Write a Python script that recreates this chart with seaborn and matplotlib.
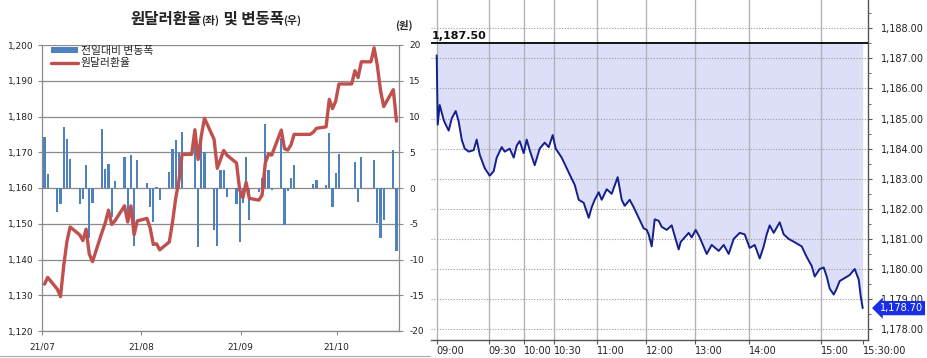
import numpy as np
import pandas as pd
import matplotlib
matplotlib.use("Agg")
import matplotlib.pyplot as plt
import matplotlib.transforms as mtransforms
from matplotlib import font_manager as fm
from matplotlib.offsetbox import TextArea, HPacker, AnchoredOffsetbox
from matplotlib.patches import Patch
from matplotlib.lines import Line2D
from matplotlib.ticker import MultipleLocator
import seaborn as sns

# ---------------- data: left panel (daily) ----------------
dates = [
    "2021-07-01", "2021-07-02", "2021-07-05", "2021-07-06", "2021-07-07", "2021-07-08", "2021-07-09",
    "2021-07-12", "2021-07-13", "2021-07-14", "2021-07-15", "2021-07-16",
    "2021-07-19", "2021-07-20", "2021-07-21", "2021-07-22", "2021-07-23",
    "2021-07-26", "2021-07-27", "2021-07-28", "2021-07-29", "2021-07-30",
    "2021-08-02", "2021-08-03", "2021-08-04", "2021-08-05", "2021-08-06",
    "2021-08-09", "2021-08-10", "2021-08-11", "2021-08-12", "2021-08-13",
    "2021-08-16", "2021-08-17", "2021-08-18", "2021-08-19", "2021-08-20",
    "2021-08-23", "2021-08-24", "2021-08-25", "2021-08-26", "2021-08-27",
    "2021-08-30", "2021-08-31", "2021-09-01", "2021-09-02", "2021-09-03",
    "2021-09-06", "2021-09-07", "2021-09-08", "2021-09-09", "2021-09-10",
    "2021-09-13", "2021-09-14", "2021-09-15", "2021-09-16", "2021-09-17",
    "2021-09-20", "2021-09-21", "2021-09-22", "2021-09-23", "2021-09-24",
    "2021-09-27", "2021-09-28", "2021-09-29", "2021-09-30", "2021-10-01",
    "2021-10-04", "2021-10-05", "2021-10-06", "2021-10-07", "2021-10-08",
    "2021-10-11", "2021-10-12", "2021-10-13", "2021-10-14", "2021-10-15",
    "2021-10-18", "2021-10-19",
]
usdkrw = [
    1133.1, 1135.0, 1131.7, 1129.6, 1138.2, 1145.0, 1149.1,
    1146.9, 1145.3, 1148.5, 1141.5, 1139.4,
    1147.7, 1150.3, 1153.8, 1149.8, 1150.8,
    1155.0, 1150.5, 1155.0, 1146.9, 1150.8,
    1151.5, 1148.9, 1144.2, 1144.4, 1142.7,
    1144.9, 1150.4, 1157.1, 1162.0, 1169.4,
    1169.4, 1176.3, 1168.0, 1174.6, 1179.5,
    1173.6, 1165.5, 1168.0, 1170.5, 1169.2,
    1167.0, 1159.4, 1157.3, 1161.6, 1157.1,
    1156.6, 1158.0, 1167.0, 1169.5, 1169.2,
    1176.2, 1171.0, 1170.6, 1172.0, 1175.0,
    1175.0, 1175.0, 1175.0, 1175.6, 1176.7,
    1177.1, 1184.8, 1182.2, 1184.3, 1189.1,
    1189.1, 1189.1, 1192.8, 1190.9, 1195.3,
    1195.3, 1199.2, 1194.3, 1187.3, 1182.8,
    1187.5, 1178.7,
]
daily_change = [
    7.2, 2.0, -3.3, -2.2, 8.6, 6.9, 4.1,
    -2.2, -1.6, 3.2, -7.0, -2.1,
    8.3, 2.6, 3.4, -4.0, 1.0,
    4.3, -4.5, 4.6, -8.1, 3.9,
    0.7, -2.6, -4.7, 0.2, -1.7,
    2.2, 5.5, 6.7, 4.9, 7.8,
    0.0, 7.0, -8.2, 6.5, 5.0,
    -5.9, -8.1, 2.5, 2.5, -1.3,
    -2.2, -7.6, -2.1, 4.3, -4.5,
    -0.5, 1.4, 9.0, 2.5, -0.3,
    7.0, -5.2, -0.4, 1.4, 3.2,
    0.0, 0.0, 0.0, 0.6, 1.1,
    0.4, 7.7, -2.6, 2.1, 4.8,
    0.0, 0.0, 3.7, -1.9, 4.4,
    0.0, 3.9, -4.9, -7.0, -4.5,
    5.3, -8.8,
]
month_ticks = ["2021-07-01", "2021-08-01", "2021-09-01", "2021-10-01"]
month_labels = ["21/07", "21/08", "21/09", "21/10"]

# ---------------- data: right panel (intraday) ----------------
intraday_pos = [
    0, 1, 3, 7, 9, 12, 15, 19, 22, 25, 28, 32, 37, 40, 43, 48, 53, 57, 60, 65,
    68, 73, 77, 80, 83, 87, 90, 93, 98, 103, 108, 112, 116, 119, 125, 130, 135, 138,
    142, 147, 152, 155, 158, 162, 165, 170, 175, 181, 185, 188, 193, 197, 202, 207,
    210, 212, 215, 218, 222, 225, 230, 235, 238, 242, 244, 252, 255, 259, 263, 270,
    275, 282, 287, 292, 297, 303, 308, 313, 318, 323, 327, 330, 333, 337, 343, 347,
    352, 360, 365, 370, 375, 378, 383, 387, 390, 393, 397, 400, 403, 408, 413, 418,
    422, 424, 426,
]
intraday_rate = [
    1187.1, 1184.8, 1185.45, 1184.95, 1184.8, 1184.6, 1185.0, 1185.25, 1184.9, 1184.3,
    1184.0, 1183.9, 1183.95, 1184.3, 1183.8, 1183.35, 1183.1, 1183.25, 1183.7, 1184.05,
    1183.9, 1184.0, 1183.7, 1184.1, 1184.25, 1183.85, 1184.3, 1183.95, 1183.45, 1184.0,
    1184.2, 1184.05, 1184.45, 1184.0, 1183.7, 1183.35, 1183.0, 1182.8,
    1182.3, 1182.2, 1181.7, 1182.05, 1182.3, 1182.55, 1182.3, 1182.65, 1182.5, 1183.05,
    1182.3, 1182.1, 1182.3, 1182.05, 1181.7, 1181.35,
    1181.3, 1181.15, 1180.75, 1181.65, 1181.6, 1181.4, 1181.3, 1181.45, 1181.1, 1180.65,
    1180.9, 1181.2, 1181.05, 1181.3, 1181.05, 1180.5,
    1180.8, 1180.6, 1180.8, 1180.5, 1181.0, 1181.2, 1181.15, 1180.7, 1180.8, 1180.35,
    1180.75, 1181.15, 1181.45, 1181.2, 1181.55, 1181.15,
    1181.0, 1180.85, 1180.75, 1180.4, 1180.1, 1179.75, 1180.0, 1180.05, 1179.75, 1179.35,
    1179.15, 1179.35, 1179.6, 1179.7, 1179.8, 1180.0,
    1179.65, 1179.1, 1178.7,
]
prev_close = 1187.5
last_price = 1178.7
time_tick_pos = [0, 52, 87, 117, 160, 209, 258, 312, 384, 426]
time_labels = ["09:00", "09:30", "10:00", "10:30", "11:00", "12:00", "13:00", "14:00", "15:00", "15:30:00"]

# ---------------- style / fonts ----------------
sns.set_style("white")
names = {f.name for f in fm.fontManager.ttflist}
NARROW = "Liberation Sans Narrow" if "Liberation Sans Narrow" in names else "DejaVu Sans"
NSZ = 9.0 if NARROW != "DejaVu Sans" else 7.0
KR = "Noto Sans CJK KR"
plt.rcParams["font.family"] = [NARROW, KR, "DejaVu Sans"]
plt.rcParams["axes.unicode_minus"] = False

W, H = 928, 358
fig = plt.figure(figsize=(W / 100, H / 100), dpi=100)
fig.patch.set_facecolor("white")


def rect(l, t, r, b):
    return [l / W, 1 - b / H, (r - l) / W, (b - t) / H]


GRAY = "#8a8a8a"
BLUE = "#4F81BD"
RED = "#C0504D"

# ---------------- left panel ----------------
d0 = pd.Timestamp("2021-07-01")
day = (pd.to_datetime(dates) - d0).days.to_numpy().astype(float)
mt = (pd.to_datetime(month_ticks) - d0).days.to_numpy().astype(float) - 0.7

axb = fig.add_axes(rect(42, 45, 399, 331))
axl = axb.twinx()

sns.barplot(x=day, y=daily_change, native_scale=True, width=0.7, color=BLUE,
            saturation=1, errorbar=None, ax=axb, zorder=2, linewidth=0, edgecolor="none")
sns.lineplot(x=day, y=usdkrw, ax=axl, color=RED, linewidth=2.4, zorder=3)

axb.yaxis.tick_right()
axl.yaxis.tick_left()
axb.set_ylim(-20, 20)
axb.set_yticks(range(-20, 21, 5))
axb.set_yticklabels([str(v) for v in range(-20, 21, 5)])
axl.set_ylim(1120, 1200)
axl.set_yticks(range(1120, 1201, 10))
axl.set_yticklabels([f"{v:,}" for v in range(1120, 1201, 10)])
axb.set_xlim(-0.78, 110.78)
axb.set_xticks(mt)
axb.set_xticklabels(month_labels)
for a in (axb, axl):
    a.set_xlabel("")
    a.set_ylabel("")
axb.grid(axis="y", color=GRAY, linewidth=0.9)
axb.grid(axis="x", visible=False)
axb.set_axisbelow(True)
for s in ["left", "bottom", "right"]:
    axb.spines[s].set_visible(True)
    axb.spines[s].set_color(GRAY)
    axb.spines[s].set_linewidth(0.9)
axb.spines["top"].set_visible(False)
for s in axl.spines.values():
    s.set_visible(False)
axb.tick_params(axis="y", which="major", right=True, left=False, length=3, width=0.8,
                color=GRAY, pad=4.5, labelsize=NSZ - 0.5, labelcolor="#222222")
axb.tick_params(axis="x", bottom=True, length=3, width=0.8, color=GRAY, pad=5,
                labelsize=NSZ - 0.5, labelcolor="#222222")
axl.tick_params(axis="y", left=True, right=False, length=3, width=0.8, color=GRAY,
                pad=3, labelsize=NSZ - 0.5, labelcolor="#222222")

handles = [Patch(facecolor=BLUE, edgecolor="none"), Line2D([], [], color=RED, linewidth=2.4)]
leg = axl.legend(handles, ["전일대비 변동폭", "원달러환율"], loc="upper left",
                 bbox_to_anchor=(0.012, 1.012), frameon=False, prop={"family": KR, "size": 7.8},
                 handlelength=2.5, handleheight=0.55, handletextpad=0.3, labelspacing=0.2,
                 borderaxespad=0, borderpad=0.4)

title = HPacker(children=[
    TextArea("원달러환율", textprops=dict(fontsize=11.2, fontweight="bold", family=KR, color="#222222")),
    TextArea("(좌)", textprops=dict(fontsize=7.8, fontweight="bold", family=KR, color="#222222")),
    TextArea(" 및 변동폭", textprops=dict(fontsize=11.2, fontweight="bold", family=KR, color="#222222")),
    TextArea("(우)", textprops=dict(fontsize=7.8, fontweight="bold", family=KR, color="#222222")),
], align="baseline", pad=0, sep=0)
fig.add_artist(AnchoredOffsetbox(loc="center", child=title, bbox_to_anchor=(216 / W, 1 - 19 / H),
                                 bbox_transform=fig.transFigure, frameon=False, pad=0, borderpad=0))
fig.text(404 / W, 1 - 25 / H, "(원)", ha="center", va="center", fontsize=7.5,
         fontweight="bold", family=KR, color="#222222")
fig.add_artist(Line2D([0, 430 / W], [1 - 356 / H] * 2, color="#a8a8a8", linewidth=0.8))

# ---------------- right panel ----------------
axr = fig.add_axes(rect(431, 0, 868, 340))
axr.fill_between(intraday_pos, intraday_rate, prev_close, color="#DDDFF8", linewidth=0, zorder=1)
sns.lineplot(x=intraday_pos, y=intraday_rate, ax=axr, color="#14208C", linewidth=1.4, zorder=3)
axr.axhline(prev_close, color="black", linewidth=1.3, zorder=4)
axr.set_xlim(-5.7, 431.3)
axr.set_ylim(1177.64, 1188.94)
axr.set_xlabel("")
axr.set_ylabel("")
yt = list(range(1178, 1189))
axr.yaxis.tick_right()
axr.set_yticks(yt)
axr.set_yticklabels([f"{v:,}.00" for v in yt])
axr.yaxis.set_minor_locator(MultipleLocator(0.5))
axr.set_xticks(time_tick_pos)
axr.set_xticklabels(time_labels)
for lbl in axr.get_xticklabels():
    lbl.set_horizontalalignment("left")
axr.set_axisbelow("line")
axr.grid(axis="y", which="major", linestyle=(0, (1, 1.5)), color="#9a9a9a", linewidth=0.8)
axr.grid(axis="x", which="major", color="#b4b4b4", linewidth=1.0)
axr.xaxis.get_gridlines()[-1].set_visible(False)
for s in ["top", "left"]:
    axr.spines[s].set_visible(False)
for s in ["right", "bottom"]:
    axr.spines[s].set_visible(True)
    axr.spines[s].set_color("#555555")
    axr.spines[s].set_linewidth(1.0)
axr.tick_params(axis="y", which="major", right=True, left=False, length=3, width=0.8,
                color="#555555", pad=6, labelsize=NSZ, labelcolor="#222222")
axr.tick_params(axis="y", which="minor", right=True, left=False, length=2, width=0.6, color="#555555")
axr.tick_params(axis="x", bottom=True, length=3, width=0.8, color="#555555", pad=1,
                labelsize=NSZ, labelcolor="#222222")

axr.text(-5.0, 1187.74, "1,187.50", ha="left", va="center", fontsize=NSZ + 1,
         fontweight="bold", color="#111111", zorder=5)
blend = mtransforms.blended_transform_factory(axr.transAxes, axr.transData)
axr.text(1.027, last_price, "1,178.70", transform=blend, ha="left", va="center",
         fontsize=NSZ, color="white", clip_on=False, zorder=6,
         bbox=dict(boxstyle="larrow,pad=0.22", facecolor="#1a2ee6", edgecolor="none"))

fig.savefig("out.png", dpi=100, facecolor="white")
